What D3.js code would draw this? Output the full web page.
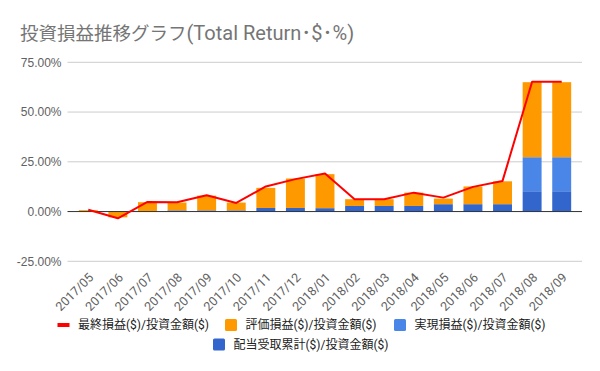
<!DOCTYPE html>
<html>
<head>
<meta charset="utf-8">
<script src="https://cdn.jsdelivr.net/npm/d3@7"></script>
<style>
  body { margin: 0; background: #fff; }
  svg { display: block; font-family: Roboto, "Noto Sans CJK JP", sans-serif; }
  .tick-label { fill: #616161; font-size: 12px; }
  .legend-text { fill: #222; font-size: 12px; }
</style>
</head>
<body>
<div id="chart"></div>
<script>
// 月別データ (値は % 表記)
const months = ["2017/05","2017/06","2017/07","2017/08","2017/09","2017/10","2017/11","2017/12",
                "2018/01","2018/02","2018/03","2018/04","2018/05","2018/06","2018/07","2018/08","2018/09"];
const dividend   = [0, 0, 0, 0.6, 0.6, 0.6, 1.8, 1.8, 1.7, 2.8, 2.8, 2.8, 3.7, 3.7, 3.7, 10.2, 10.2];
const realized   = [0, 0, 0, 0, 0, 0, 0, 0, 0, 0, 0, 0, 0, 0, 0, 17.1, 17.1];
const unrealized = [0.7, -2.9, 4.7, 3.9, 7.4, 3.9, 10.1, 14.8, 17.1, 3.4, 3.4, 6.7, 2.8, 8.9, 11.5, 37.7, 37.7];
const finalPL    = [0.9, -3.4, 4.8, 4.7, 8.2, 4.3, 12.6, 16.3, 19.1, 6.2, 6.2, 9.5, 7.0, 12.4, 15.4, 65.2, 65.2];
const yTicks = [-25, 0, 25, 50, 75];

const seriesNames = ["最終損益($)/投資金額($)", "評価損益($)/投資金額($)", "実現損益($)/投資金額($)", "配当受取累計($)/投資金額($)"];
const COLORS = { final: "#ff0000", unrealized: "#ff9900", realized: "#4a86e8", dividend: "#3366cc" };

const width = 600, height = 371;
const svg = d3.select("#chart").append("svg")
  .attr("width", width).attr("height", height);

// タイトル (和文と欧文で文字サイズを少し変える)
const title = svg.append("text")
  .attr("x", 20).attr("y", 40)
  .attr("fill", "#757575");
title.append("tspan").style("font-size", "18.5px").text("投資損益推移グラフ");
title.append("tspan").style("font-size", "20px").text("(Total Return･$･%)");

const x = d3.scaleBand()
  .domain(months)
  .range([73.5, 576.5])
  .paddingInner(0.36)
  .paddingOuter(0.18);

const y = d3.scaleLinear()
  .domain([-25, 75])
  .range([261.3, 62.3]);

const plotL = 67.5, plotR = 582;

// グリッド線
svg.append("g").selectAll("line")
  .data(yTicks.filter(t => t !== 0))
  .join("line")
    .attr("x1", plotL).attr("x2", plotR)
    .attr("y1", d => y(d)).attr("y2", d => y(d))
    .attr("stroke", "#cccccc").attr("stroke-width", 1);

// Y軸ラベル
svg.append("g")
  .attr("transform", `translate(${plotL},0)`)
  .call(d3.axisLeft(y).tickValues(yTicks).tickSize(0).tickPadding(6).tickFormat(d => d.toFixed(2) + "%"))
  .call(g => g.select(".domain").remove())
  .selectAll("text")
    .attr("class", "tick-label");

// 積み上げ棒
const stackData = months.map((m, i) => ({
  month: m,
  dividend: dividend[i],
  realized: realized[i],
  unrealized: unrealized[i],
}));
const stack = d3.stack()
  .keys(["dividend", "realized", "unrealized"])
  .offset(d3.stackOffsetDiverging);
const layers = stack(stackData);

svg.append("g").selectAll("g")
  .data(layers)
  .join("g")
    .attr("fill", d => COLORS[d.key])
  .selectAll("rect")
  .data(d => d.filter(s => s[1] !== s[0]))
  .join("rect")
    .attr("x", d => x(d.data.month))
    .attr("width", x.bandwidth())
    .attr("y", d => y(Math.max(d[0], d[1])))
    .attr("height", d => Math.abs(y(d[0]) - y(d[1])));

// ゼロ線
svg.append("line")
  .attr("x1", plotL).attr("x2", plotR)
  .attr("y1", y(0)).attr("y2", y(0))
  .attr("stroke", "#333").attr("stroke-width", 1);

// 最終損益ライン
const line = d3.line()
  .x((d, i) => x(months[i]) + x.bandwidth() / 2)
  .y(d => y(d));
svg.append("path")
  .attr("d", line(finalPL))
  .attr("fill", "none")
  .attr("stroke", COLORS.final)
  .attr("stroke-width", 2)
  .attr("stroke-linejoin", "round");

// X軸ラベル (45度回転)
svg.append("g").selectAll("text")
  .data(months)
  .join("text")
    .attr("class", "tick-label")
    .attr("text-anchor", "end")
    .style("font-size", "12.5px")
    .attr("transform", d => `translate(${x(d) + x.bandwidth() / 2 + 6},${y(-25) + 17}) rotate(-45)`)
    .text(d => d);

// 凡例
const legendItems = [
  { name: seriesNames[0], color: COLORS.final, type: "line", x: 57.5, y: 325 },
  { name: seriesNames[1], color: COLORS.unrealized, type: "box", x: 225, y: 325 },
  { name: seriesNames[2], color: COLORS.realized, type: "box", x: 394, y: 325 },
  { name: seriesNames[3], color: COLORS.dividend, type: "box", x: 213, y: 344.5 },
];
const lg = svg.append("g").selectAll("g")
  .data(legendItems)
  .join("g")
    .attr("transform", d => `translate(${d.x},${d.y})`);
lg.append("rect")
  .attr("x", 0)
  .attr("y", d => d.type === "line" ? -2 : -6)
  .attr("width", 12)
  .attr("height", d => d.type === "line" ? 4 : 12)
  .attr("rx", d => d.type === "line" ? 0 : 1.5)
  .attr("fill", d => d.color);
lg.append("text")
  .attr("class", "legend-text")
  .attr("x", 20.5)
  .attr("dy", "0.35em")
  .text(d => d.name);
</script>
</body>
</html>
